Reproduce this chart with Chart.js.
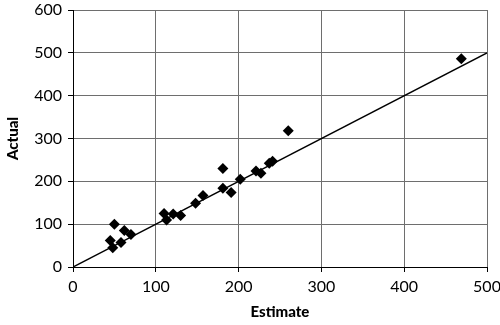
<!DOCTYPE html>
<html lang="en">
<head>
<meta charset="utf-8">
<title>Estimate vs Actual</title>
<style>
  html, body { margin: 0; padding: 0; background: #fff; }
  #wrap { width: 500px; height: 325px; }
</style>
</head>
<body>
<div id="wrap"><canvas id="myScatter"></canvas></div>
<script src="https://cdn.jsdelivr.net/npm/chart.js@4/dist/chart.umd.min.js"></script>
<script>
// estimate / actual pairs
var estimate = [45, 48, 50, 58, 62, 70, 110, 113, 121, 130, 148, 157, 181, 181, 191, 202, 221, 227, 237, 241, 260, 469];
var actual   = [62, 45, 100, 57, 85, 76, 125, 110, 124, 120, 149, 167, 230, 184, 174, 205, 224, 219, 242, 247, 318, 486];
// reference line y = x
var lineX = [0, 500];
var lineY = [0, 500];

var points = estimate.map(function (e, i) { return { x: e, y: actual[i] }; });
var diag = lineX.map(function (e, i) { return { x: e, y: lineY[i] }; });

var fontFam = "Lato, 'DejaVu Sans', sans-serif";

var ctx = document.getElementById("myScatter");
var myScatter = new Chart(ctx, {
    type: 'scatter',
    data: {
        datasets: [
            {
                label: 'Actual',
                data: points,
                pointStyle: 'rectRot',
                pointRadius: 5.5,
                backgroundColor: '#000',
                borderColor: '#000',
                borderWidth: 0
            },
            {
                label: 'y = x',
                data: diag,
                showLine: true,
                pointRadius: 0,
                borderColor: '#000',
                borderWidth: 1.5,
                fill: false
            }
        ]
    },
    options: {
        responsive: true,
        maintainAspectRatio: false,
        animation: false,
        layout: { padding: { top: 10, right: 13, left: 0, bottom: 0 } },
        plugins: {
            legend: { display: false },
            tooltip: { enabled: false }
        },
        scales: {
            x: {
                type: 'linear',
                min: 0,
                max: 500,
                ticks: { stepSize: 100, color: '#000', padding: 5, font: { family: fontFam, size: 16 } },
                grid: { color: '#6e6e6e', lineWidth: 1, tickLength: 5, tickColor: '#000' },
                border: { color: '#000', width: 1 },
                title: { display: true, text: 'Estimate', color: '#000', padding: { top: 7 }, font: { family: fontFam, size: 15, weight: '900' } },
                afterFit: function (scale) {
                    scale.height = 58;
                    // let the layout padding decide the edges, not the end labels
                    scale.paddingLeft = 0;
                    scale.paddingRight = 0;
                }
            },
            y: {
                min: 0,
                max: 600,
                ticks: { stepSize: 100, color: '#000', padding: 6, font: { family: fontFam, size: 16 } },
                grid: { color: '#6e6e6e', lineWidth: 1, tickLength: 5, tickColor: '#000' },
                border: { color: '#000', width: 1 },
                title: { display: true, text: 'Actual', color: '#000', font: { family: fontFam, size: 15, weight: '900' } },
                afterFit: function (scale) {
                    scale.width = 73;
                    scale.paddingTop = 0;
                    scale.paddingBottom = 0;
                }
            }
        }
    }
});
</script>
</body>
</html>
